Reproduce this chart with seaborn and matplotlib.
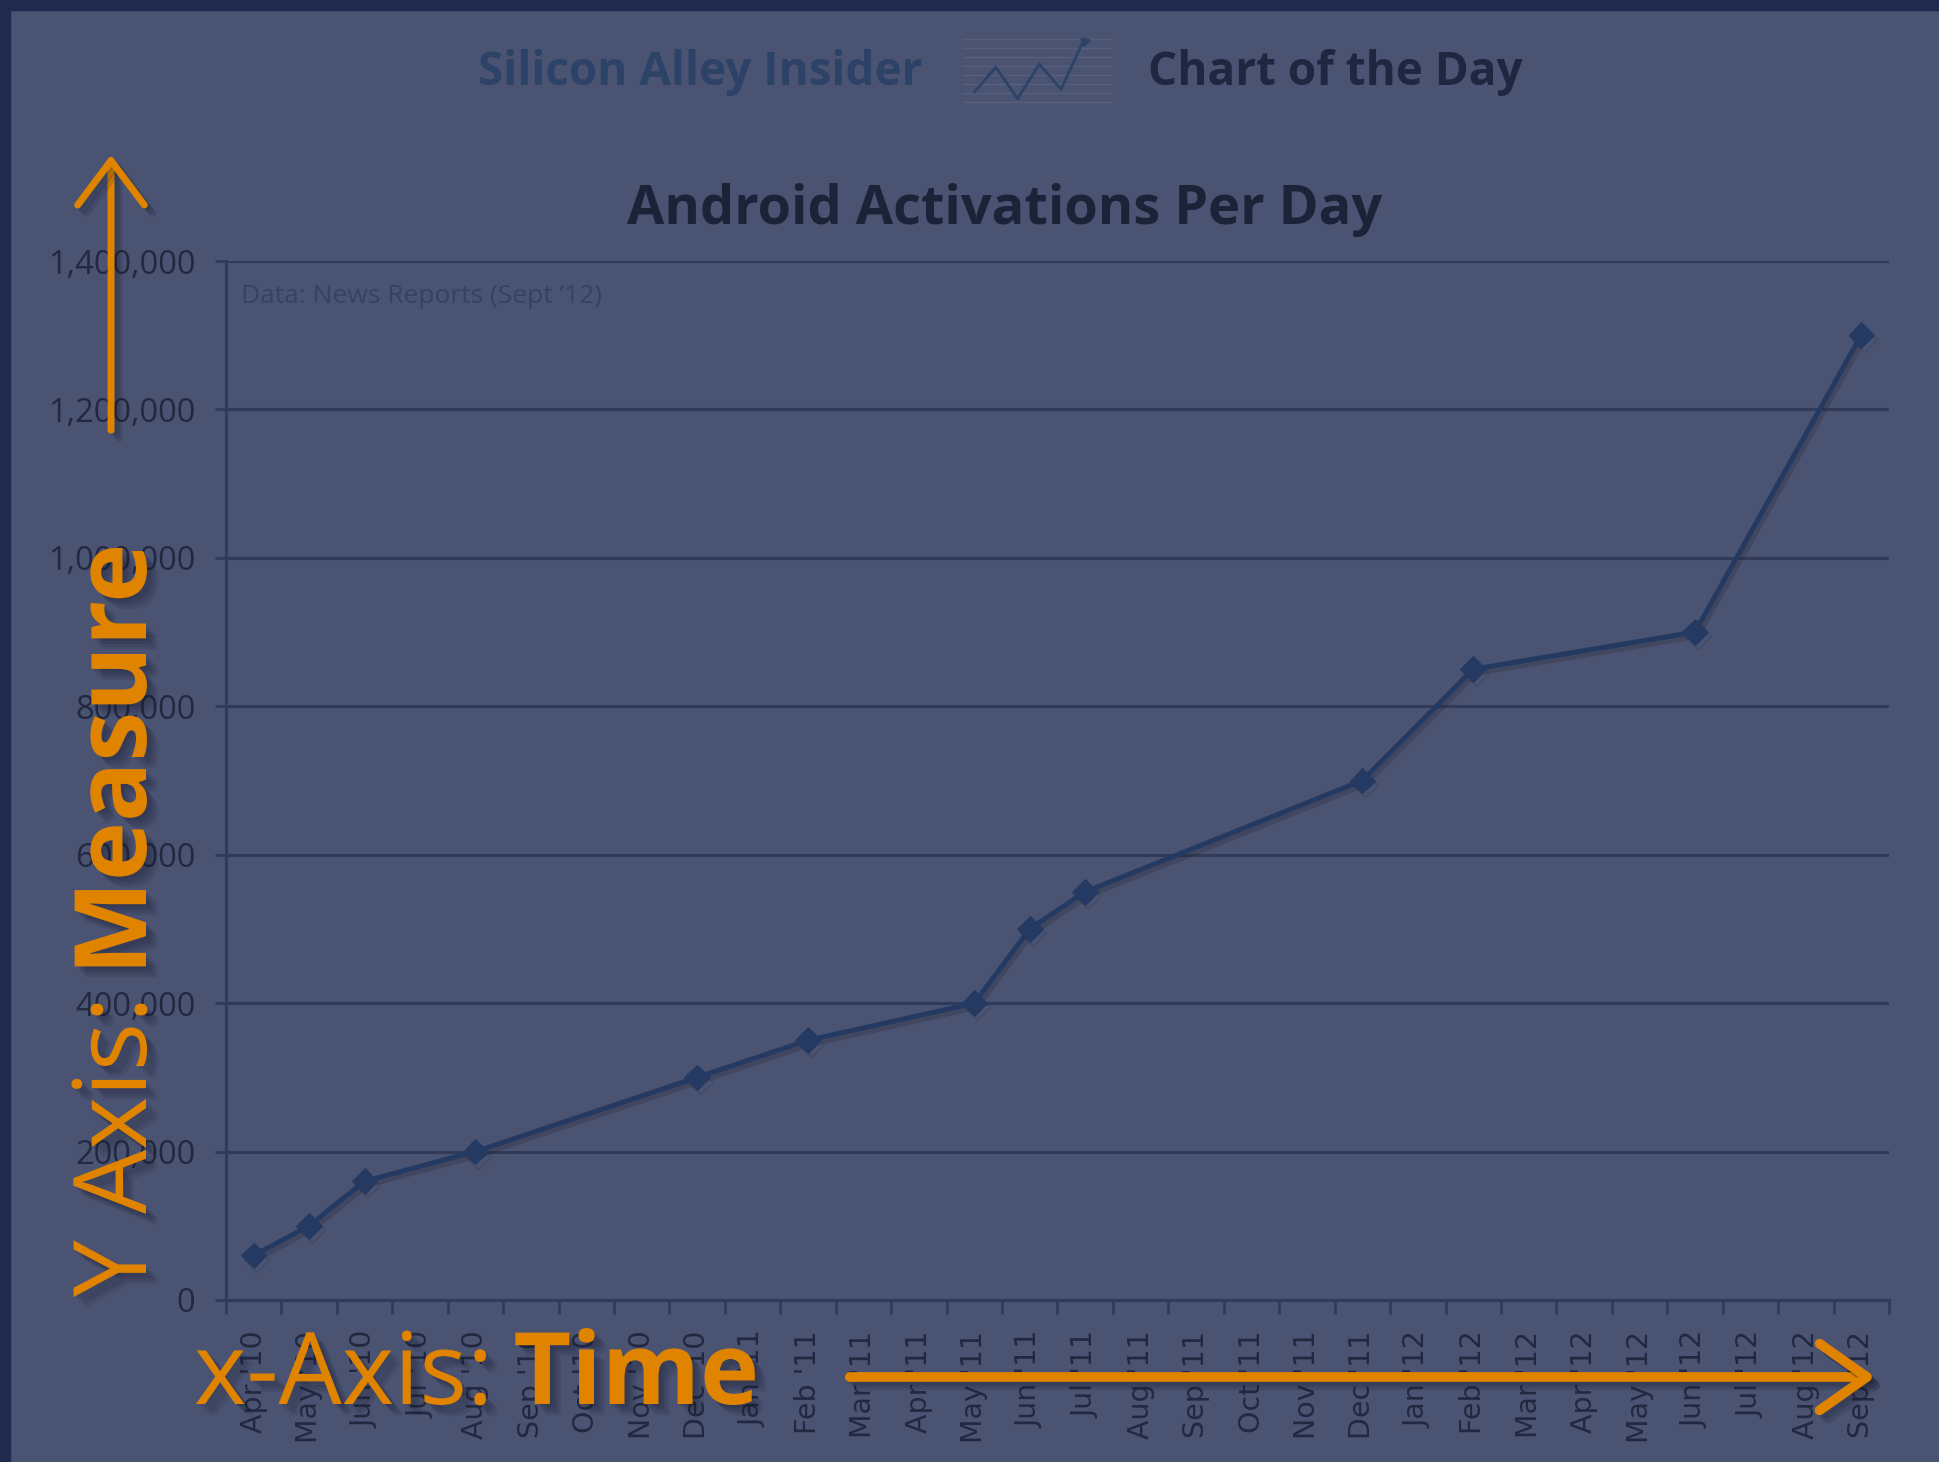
import numpy as np
import pandas as pd
import matplotlib
matplotlib.use("Agg")
import matplotlib.pyplot as plt
import matplotlib.patheffects as pe
from matplotlib.patches import Rectangle, FancyArrowPatch
from matplotlib.ticker import FuncFormatter, MultipleLocator
import seaborn as sns

# months on the x axis (one slot per month, Excel style)
months = ["Apr '10", "May '10", "Jun '10", "Jul '10", "Aug '10", "Sep '10",
          "Oct '10", "Nov '10", "Dec '10", "Jan '11", "Feb '11", "Mar '11",
          "Apr '11", "May '11", "Jun '11", "Jul '11", "Aug '11", "Sep '11",
          "Oct '11", "Nov '11", "Dec '11", "Jan '12", "Feb '12", "Mar '12",
          "Apr '12", "May '12", "Jun '12", "Jul '12", "Aug '12", "Sep '12"]

# activations per day, None where no report
activations = [60000, 100000, 160000, None, 200000, None,
               None, None, 300000, None, 350000, None,
               None, 400000, 500000, 550000, None, None,
               None, None, 700000, None, 850000, None,
               None, None, 900000, None, None, 1300000]

y_ticks = [0, 200000, 400000, 600000, 800000, 1000000, 1200000, 1400000]

# small header icon (zig-zag trend)
icon_y = [0.15, 0.55, 0.05, 0.6, 0.2, 0.95]

BG = "#4b5372"
NAVY = "#1f2a4e"
TXT = "#222840"
LINE = "#243a62"
GRID = "#313a58"
ORANGE = "#e08400"

sns.set_theme(style="white")
plt.rcParams["font.family"] = ["Open Sans", "DejaVu Sans"]

W, H, DPI = 1940, 1462, 100
fig = plt.figure(figsize=(W / DPI, H / DPI), dpi=DPI, facecolor=BG)
ax = fig.add_axes([226 / W, 1 - 1300 / H, (1889 - 226) / W, (1300 - 261) / H])
ax.set_facecolor(BG)

df = pd.DataFrame({"pos": np.arange(len(months)), "month": months,
                   "activations": activations}).dropna()

sns.lineplot(data=df, x="pos", y="activations", ax=ax, color=LINE, lw=3.6,
             marker="D", markersize=13, markeredgecolor=LINE,
             markerfacecolor=LINE,
             path_effects=[pe.SimpleLineShadow(offset=(2, -3), alpha=0.2),
                           pe.Normal()])

ax.set_xlim(-0.5, len(months) - 0.5)
ax.set_ylim(0, 1400000)
ax.set_yticks(y_ticks)
ax.yaxis.set_major_formatter(FuncFormatter(lambda v, p: f"{v:,.0f}"))
ax.set_xticks(np.arange(len(months)))
ax.set_xticklabels(months, rotation=90, fontfamily="DejaVu Sans",
                   fontsize=20.5, color=TXT, va="top", ha="center")
ax.xaxis.set_minor_locator(MultipleLocator(1, offset=0.5))
ax.tick_params(axis="x", which="major", length=0, pad=22)
ax.tick_params(axis="x", which="minor", length=10, width=2, color=GRID,
               direction="out", bottom=True)
ax.tick_params(axis="y", length=8, width=2, color=GRID, pad=14,
               labelsize=23.5, labelcolor=TXT, left=True)
ax.grid(axis="y", color=GRID, lw=2.2)
ax.grid(axis="x", visible=False)
for s in ["top", "right"]:
    ax.spines[s].set_visible(False)
for s in ["left", "bottom"]:
    ax.spines[s].set_color(GRID)
    ax.spines[s].set_linewidth(2.2)
ax.set_xlabel("")
ax.set_ylabel("")

ax.text(0.009, 0.966, "Data: News Reports (Sept \u201912)", transform=ax.transAxes,
        fontsize=19, color="#394160", ha="left", va="center")

# navy frame edges
fig.patches.append(Rectangle((0, 0), 10 / W, 1, transform=fig.transFigure,
                             color=NAVY, zorder=0))
fig.patches.append(Rectangle((0, 1 - 10 / H), 1, 10 / H, transform=fig.transFigure,
                             color=NAVY, zorder=0))

# header
fig.text(922 / W, 1 - 72 / H, "Silicon Alley Insider", ha="right", va="center",
         fontsize=33, fontweight="bold", color="#2c4266")
fig.text(1148 / W, 1 - 72 / H, "Chart of the Day", ha="left", va="center",
         fontsize=33, fontweight="bold", color="#1e2640")
iax = fig.add_axes([962 / W, 1 - 108 / H, (1113 - 962) / W, 72 / H])
iax.set_facecolor(BG)
for yy in np.linspace(0, 1, 8):
    iax.axhline(yy, color="#56607c", lw=1)
iax.plot(np.linspace(0.08, 0.8, len(icon_y)), icon_y, color="#2c4266", lw=2)
iax.annotate("", xy=(0.88, 1.0), xytext=(0.8, 0.95),
             arrowprops=dict(arrowstyle="-|>", color="#2c4266", lw=2))
iax.set_xlim(0, 1)
iax.set_ylim(-0.1, 1.05)
iax.axis("off")

fig.text(1005 / W, 1 - 210 / H, "Android Activations Per Day", ha="center",
         va="center", fontsize=39, fontweight="bold", color="#1c2238")

# orange annotations, soft dark glow behind them
glow = [pe.SimplePatchShadow(offset=(d, -d), shadow_rgbFace="#151a2c", alpha=0.12)
        for d in (2, 4, 6, 8)] + [pe.Normal()]
line_glow = [pe.SimpleLineShadow(offset=(d, -d), shadow_color="#151a2c", alpha=0.15)
             for d in (2, 4, 6)] + [pe.Normal()]
fig.canvas.draw()
r = fig.canvas.get_renderer()

t1 = fig.text(146 / W, 1 - 1297 / H, "Y Axis:", rotation=90, rotation_mode="anchor",
              ha="left", va="baseline", fontsize=73, color=ORANGE,
              path_effects=glow)
bb = t1.get_window_extent(r)
fig.text(146 / W, (bb.y1 + 21) / H, "Measure", rotation=90, rotation_mode="anchor",
         ha="left", va="baseline", fontsize=72, fontweight="bold", color=ORANGE,
         path_effects=glow)

t2 = fig.text(194 / W, 1 - 1404 / H, "x-Axis:", ha="left", va="baseline",
              fontsize=72, color=ORANGE, path_effects=glow)
bb = t2.get_window_extent(r)
fig.text((bb.x1 + 20) / W, 1 - 1404 / H, "Time", ha="left", va="baseline",
         fontsize=72, fontweight="bold", color=ORANGE, path_effects=glow)

fig.add_artist(FancyArrowPatch((111 / W, 1 - 433 / H), (111 / W, 1 - 152 / H),
                               transform=fig.transFigure, color=ORANGE, lw=5,
                               arrowstyle="->,head_length=32,head_width=24",
                               path_effects=line_glow))
fig.add_artist(FancyArrowPatch((847 / W, 1 - 1377 / H), (1878 / W, 1 - 1377 / H),
                               transform=fig.transFigure, color=ORANGE, lw=7,
                               arrowstyle="->,head_length=34,head_width=24",
                               path_effects=line_glow))

fig.savefig("out.png", dpi=DPI, facecolor=BG)
